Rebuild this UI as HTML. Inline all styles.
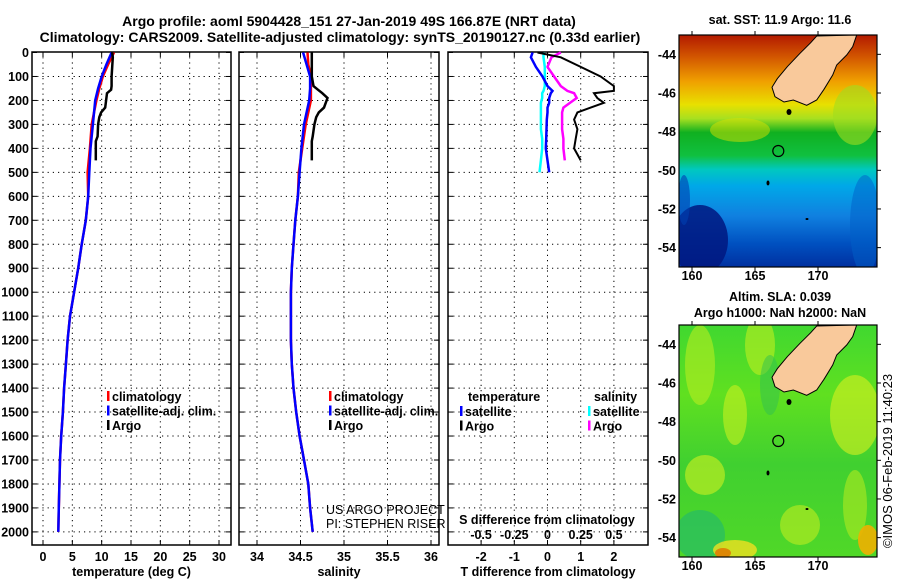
<!DOCTYPE html>
<html><head><meta charset="utf-8"><style>
body{margin:0;background:#fff}
svg{display:block;font-family:"Liberation Sans",Arial,sans-serif}
.t{font-weight:bold;font-size:14px}
.k{font-weight:bold;font-size:12.5px}
</style></head><body>
<svg id="c" width="900" height="580" xmlns="http://www.w3.org/2000/svg">
<rect width="900" height="580" fill="#fff"/>
<text class="t" x="349" y="26" text-anchor="middle">Argo profile: aoml 5904428_151 27-Jan-2019 49S 166.87E (NRT data)</text>
<text class="t" x="340" y="42" text-anchor="middle">Climatology: CARS2009. Satellite-adjusted climatology: synTS_20190127.nc (0.33d earlier)</text>
<g id="plots"></g>
<g id="maps"></g>
</svg>
<script>
// ---- data ----
const depthTicks=[0,100,200,300,400,500,600,700,800,900,1000,1100,1200,1300,1400,1500,1600,1700,1800,1900,2000];
const tTicks=[0,5,10,15,20,25,30];
const sTicks=[34,34.5,35,35.5,36];
const dTTicks=[-2,-1,0,1,2];
const dSTicks=[-0.5,-0.25,0,0.25,0.5];
const dSLabels=["-0.5","-0.25","0","0.25","0.5"];
const climDepth=[0,50,100,150,200,300,400,500,600,700,800,900,1000,1100,1200,1300,1400,1500,1600,1700,1800,1900,2000];
const tSat=[11.7,10.8,10.0,9.4,8.9,8.5,8.1,7.9,7.7,7.3,6.6,6.0,5.3,4.6,4.2,3.9,3.6,3.4,3.1,2.9,2.8,2.7,2.6];
const tClim=[12.1,11.1,10.2,9.6,9.1,8.3,8.0,7.6,7.7,7.3,6.6,6.0,5.3,4.6,4.2,3.9,3.6,3.4,3.1,2.9,2.8,2.7,2.6];
const sSat=[34.53,34.57,34.61,34.61,34.60,34.54,34.51,34.49,34.47,34.44,34.42,34.40,34.39,34.39,34.39,34.40,34.42,34.45,34.49,34.54,34.59,34.61,34.64];
const sClim=[34.58,34.59,34.62,34.62,34.62,34.56,34.52,34.48,34.47,34.44,34.42,34.40,34.39,34.39,34.39,34.40,34.42,34.45,34.49,34.54,34.59,34.61,34.64];
const argoDepth=[0,20,60,100,140,155,170,190,230,250,270,300,350,370,400,450];
const tArgo=[11.8,11.9,11.8,11.7,11.7,11.6,10.9,10.8,10.6,9.9,9.6,9.4,9.3,9.0,9.0,9.0];
const sArgo=[34.63,34.63,34.63,34.63,34.65,34.70,34.75,34.81,34.77,34.71,34.68,34.66,34.64,34.63,34.63,34.63];
const diffDepth=[0,20,60,100,140,160,170,190,210,230,250,280,320,360,400,450,500];
const dTArgo=[-0.3,0.4,1.0,1.6,2.0,2.0,1.4,1.5,1.7,1.3,0.9,0.8,0.9,0.85,0.8,1.0,null];
const dTSat=[-0.45,-0.5,-0.35,-0.15,0.0,0.15,0.1,0.05,0.05,0.0,0.0,-0.02,-0.03,-0.04,-0.05,0.0,0.05];
const dSSat=[-0.03,-0.03,-0.02,-0.02,-0.02,-0.03,-0.04,-0.04,-0.05,-0.05,-0.05,-0.05,-0.05,-0.04,-0.04,-0.05,-0.06];
const dSArgo=[0.1,0.03,0.0,0.05,0.1,0.15,0.2,0.22,0.17,0.12,0.11,0.11,0.11,0.12,0.12,0.13,null];

const NS="http://www.w3.org/2000/svg";
function mk(tag,attrs,parent,txt){const e=document.createElementNS(NS,tag);for(const k in attrs)e.setAttribute(k,attrs[k]);if(txt!==undefined)e.textContent=txt;parent.appendChild(e);return e;}
const yD=d=>52.5+d*0.2397;
const plots=document.getElementById('plots');

function panel(name,x0,x1,xs,ticks,labels,xlabel,gridTicks){
  const g=mk('g',{},plots);
  
  
  depthTicks.forEach(d=>{ if(d>0){const l=mk('line',{x1:x0,x2:x1,y1:yD(d),y2:yD(d),stroke:'#000','stroke-dasharray':'1.2,4','stroke-width':1},g);
    }
    mk('line',{x1:x0,x2:x0+5,y1:yD(d),y2:yD(d),stroke:'#000'},g);mk('line',{x1:x1-5,x2:x1,y1:yD(d),y2:yD(d),stroke:'#000'},g);});
  gridTicks.forEach(v=>{const l=mk('line',{x1:xs(v),x2:xs(v),y1:52,y2:545,stroke:'#000','stroke-dasharray':'1.2,4','stroke-width':1},g);
    
    mk('line',{x1:xs(v),x2:xs(v),y1:545,y2:540,stroke:'#000'},g);mk('line',{x1:xs(v),x2:xs(v),y1:52,y2:57,stroke:'#000'},g);});
  const fr=mk('rect',{x:x0,y:52,width:x1-x0,height:493,fill:'none',stroke:'#000','stroke-width':1.5},g);
  
  ticks.forEach((v,i)=>{const t=mk('text',{class:'k',x:xs(v),y:561,'text-anchor':'middle'},g,labels[i]);
    });
  const xl=mk('text',{class:'k',x:(x0+x1)/2,y:576,'text-anchor':'middle'},g,xlabel);
  
  return g;
}
function line(g,xs,depths,vals,color,w,name){
  let pts=[];const segs=[];
  depths.forEach((d,i)=>{if(vals[i]===null){if(pts.length)segs.push(pts);pts=[];}else pts.push(xs(vals[i]).toFixed(1)+','+yD(d).toFixed(1));});
  if(pts.length)segs.push(pts);
  segs.forEach(p=>{const e=mk('polyline',{points:p.join(' '),fill:'none',stroke:color,'stroke-width':w,'stroke-linejoin':'miter'},g);
    });
}
function legend(g,x,y,items){
  items.forEach((it,i)=>{const yy=y+i*14.5;
    const m=mk('rect',{x:x,y:yy-6,width:2.5,height:10,fill:it[1]},g);
    
    const t=mk('text',{class:'k',x:x+5,y:yy+4},g,it[0]);
    });
}
depthTicks.forEach(d=>{const t=mk('text',{class:'k',x:29,y:yD(d)+4.5,'text-anchor':'end'},plots,String(d));
  });

const xT=v=>43+v*5.867;
const g1=panel('temperature-panel',32,231,xT,tTicks,tTicks.map(String),'temperature (deg C)',[0,5,10,15,20,25,30]);
line(g1,xT,climDepth,tClim,'#f00',2.5,'temperature-climatology-line');
line(g1,xT,climDepth,tSat,'#00f',2.5,'temperature-satellite-line');
line(g1,xT,argoDepth,tArgo,'#000',2.5,'temperature-argo-line');
legend(g1,107,397,[['climatology','#f00'],['satellite-adj. clim.','#00f'],['Argo','#000']]);

const xS=v=>257+(v-34)*87;
const g2=panel('salinity-panel',239,439,xS,sTicks,['34','34.5','35','35.5','36'],'salinity',[34,34.5,35,35.5,36]);
line(g2,xS,climDepth,sClim,'#f00',2.5,'salinity-climatology-line');
line(g2,xS,climDepth,sSat,'#00f',2.5,'salinity-satellite-line');
line(g2,xS,argoDepth,sArgo,'#000',2.5,'salinity-argo-line');
legend(g2,329,397,[['climatology','#f00'],['satellite-adj. clim.','#00f'],['Argo','#000']]);
[['US ARGO PROJECT',514],['PI: STEPHEN RISER',528]].forEach(a=>{const t=mk('text',{x:326,y:a[1],'font-size':'12.5px'},g2,a[0]);
  });

const xdT=v=>547.5+v*33.2;
const xdS=v=>547.5+v*132.8;
const g3=panel('difference-panel',448,648,xdT,dTTicks,dTTicks.map(String),'T difference from climatology',dTTicks);
dSTicks.forEach((v,i)=>{const t=mk('text',{class:'k',x:xdS(v),y:539,'text-anchor':'middle'},g3,dSLabels[i]);
  });
const st=mk('text',{class:'k',x:547,y:524,'text-anchor':'middle'},g3,'S difference from climatology');

line(g3,xdS,diffDepth,dSSat,'#0ff',2.5,'salinity-diff-satellite-line');
line(g3,xdS,diffDepth,dSArgo,'#f0f',2.5,'salinity-diff-argo-line');
line(g3,xdT,diffDepth,dTSat,'#00f',2.5,'temperature-diff-satellite-line');
line(g3,xdT,diffDepth,dTArgo,'#000',2,'temperature-diff-argo-line');
const lt=mk('text',{class:'k',x:468,y:401},g3,'temperature');
const ls=mk('text',{class:'k',x:594,y:401},g3,'salinity');
legend(g3,460,412,[['satellite','#00f'],['Argo','#000']]);
legend(g3,588,412,[['satellite','#0ff'],['Argo','#f0f']]);

// ---- maps ----
const maps=document.getElementById('maps');
const lonTicks=[160,165,170];
const latTicks=[-44,-46,-48,-50,-52,-54];
const mx=lon=>692+(lon-160)*12.6;
function landPts(oy){const p=[[470,108],[590,105],[578,140],[560,165],[530,195],[518,225],[492,268],[470,300],[440,316],[400,300],[372,306],[345,290],[336,262],[352,236],[382,200],[420,160],[452,128]];
  return p.map(q=>(q[0]/3+660).toFixed(1)+','+(q[1]/3+oy).toFixed(1)).join(' ');}
function map(name,y0,bands,blobs,titles){
  const g=mk('g',{},maps);
  
  const my=lat=>y0+( -43-lat)*19.33;
  const id=name+'-grad';
  const defs=mk('defs',{},g);
  const lg=mk('linearGradient',{id:id,x1:0,y1:0,x2:0,y2:1},defs);
  bands.forEach(b=>mk('stop',{offset:b[0],'stop-color':b[1]},lg));
  const bg=mk('rect',{x:679,y:y0,width:198,height:232,fill:'url(#'+id+')'},g);
  
  const cp=name+'-clip';const cl=mk('clipPath',{id:cp},defs);mk('rect',{x:679,y:y0,width:198,height:232},cl);
  const bl=mk('g',{'clip-path':'url(#'+cp+')'},g);
  blobs.forEach(b=>mk('ellipse',{cx:b[0],cy:y0+b[1],rx:b[2],ry:b[3],fill:b[4],opacity:b[5]||0.8},bl));
  const land=mk('polygon',{points:landPts(y0-35),fill:'#f9c99b',stroke:'#000','stroke-width':1},g);
  
  mk('ellipse',{cx:789,cy:y0+77,rx:2.5,ry:3,fill:'#000'},g);
  mk('ellipse',{cx:768,cy:y0+148,rx:1.5,ry:2.5,fill:'#000'},g);
  mk('ellipse',{cx:807,cy:y0+184,rx:1.5,ry:1,fill:'#000'},g);
  const c=mk('circle',{cx:778.3,cy:y0+116,r:5.5,fill:'none',stroke:'#000','stroke-width':1.2},g);
  
  const fr=mk('rect',{x:679,y:y0,width:198,height:232,fill:'none',stroke:'#000','stroke-width':1.2},g);
  
  lonTicks.forEach(l=>{mk('line',{x1:mx(l),x2:mx(l),y1:y0,y2:y0-4,stroke:'#000'},g);mk('line',{x1:mx(l),x2:mx(l),y1:y0+232,y2:y0+236,stroke:'#000'},g);
    const t=mk('text',{class:'k',x:mx(l),y:y0+245,'text-anchor':'middle'},g,String(l));});
  latTicks.forEach(l=>{mk('line',{x1:877,x2:881,y1:my(l),y2:my(l),stroke:'#000'},g);
    const t=mk('text',{class:'k',x:676,y:my(l)+4.5,'text-anchor':'end'},g,String(l));});
  titles.forEach(tt=>{const t=mk('text',{class:'k',x:780,y:tt[1],'text-anchor':'middle'},g,tt[0]);});
}
map('sst-map',35,[[0,'#b31a00'],[0.1,'#d45a00'],[0.2,'#f0a000'],[0.3,'#e8e000'],[0.36,'#a8e020'],[0.42,'#10b020'],[0.52,'#10c040'],[0.58,'#00c8c0'],[0.65,'#00a8e8'],[0.78,'#1080e0'],[0.9,'#0050c0'],[1,'#0030a0']],
 [[700,205,28,35,'#001880',0.85],[684,165,6,25,'#0040b0',0.6],[855,80,22,30,'#a0dc20',0.6],[865,190,15,50,'#0060c8',0.5],[740,95,30,12,'#d8e000',0.5]],
 [['sat. SST: 11.9 Argo: 11.6',24]]);
map('sla-map',325,[[0,'#40d830'],[0.3,'#60e020'],[0.6,'#40d030'],[1,'#50d828']],
 [[700,40,15,40,'#b8ec20',0.6],[760,20,15,30,'#c0ee20',0.6],[735,90,12,30,'#c8f020',0.6],[855,90,25,40,'#d8f020',0.6],[855,180,12,35,'#b0ea20',0.6],[705,150,20,20,'#d0f020',0.6],[700,210,25,25,'#20b870',0.6],[735,225,22,10,'#f0e020'],[723,228,8,5,'#e07000',0.8],[868,215,10,15,'#f0b000',0.9],[800,200,20,20,'#c0ec20',0.6],[770,60,10,30,'#30c050',0.5]],
 [['Altim. SLA: 0.039',301],['Argo h1000: NaN h2000: NaN',317]]);
const cr=mk('text',{'font-size':'13px',x:0,y:0,transform:'translate(892,461) rotate(-90)','text-anchor':'middle'},maps,'©IMOS 06-Feb-2019 11:40:23');


</script>
</body></html>
